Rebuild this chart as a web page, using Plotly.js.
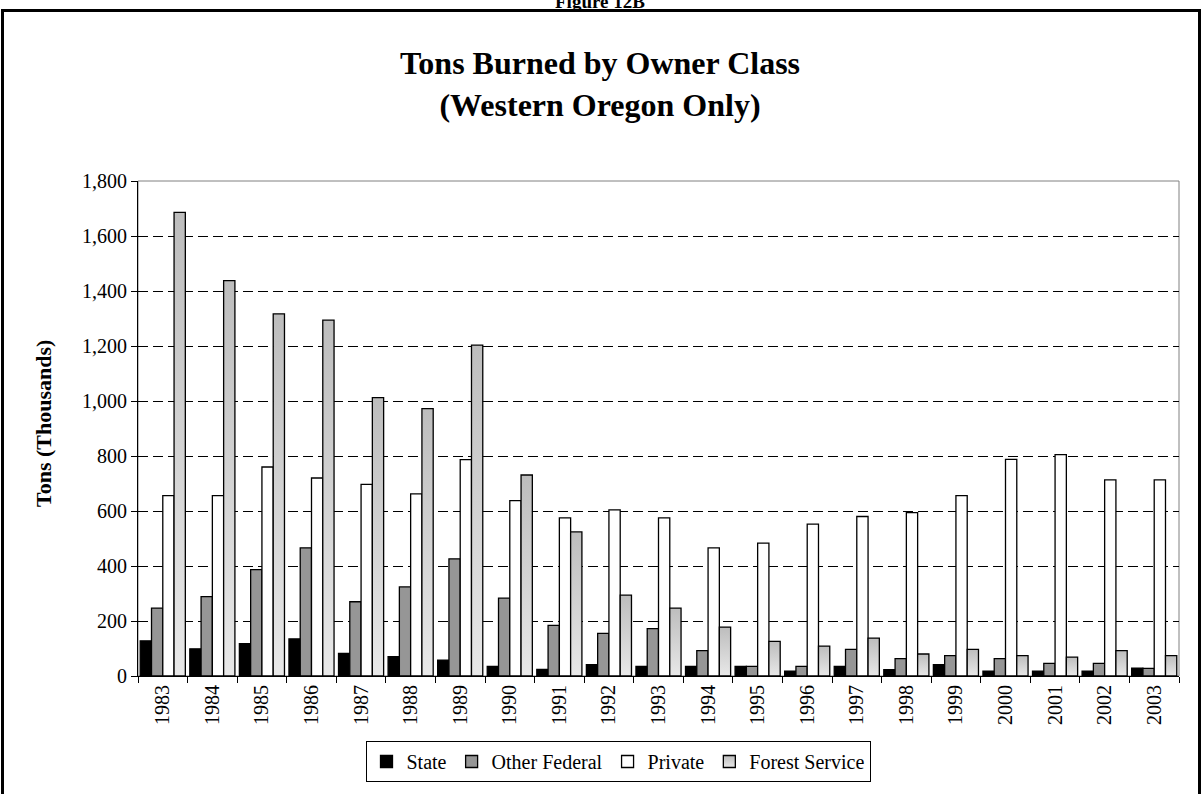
<!DOCTYPE html>
<html>
<head>
<meta charset="utf-8">
<script src="https://cdn.plot.ly/plotly-3.0.1.min.js"></script>
<style>
  html, body { margin: 0; padding: 0; background: #fff; overflow: hidden; }
  #chart { position: absolute; left: 0; top: 0; width: 1204px; height: 794px; }
  #frame { position: absolute; left: 1px; top: 9px; width: 1194px; height: 820px;
           border: 3px solid #000; pointer-events: none; }
</style>
</head>
<body>
<div id="chart"></div>
<div id="frame"></div>
<script>
const years = ['1983','1984','1985','1986','1987','1988','1989','1990','1991','1992','1993',
               '1994','1995','1996','1997','1998','1999','2000','2001','2002','2003'];
const stateVals   = [128, 99, 118, 135, 82, 70, 58, 35, 24, 41, 35, 35, 35, 18, 35, 23, 41, 18, 18, 18, 29];
const otherFedVals= [247, 289, 387, 466, 270, 324, 426, 283, 184, 155, 172, 92, 35, 35, 97, 63, 74, 63, 46, 46, 28];
const privateVals = [656, 656, 760, 720, 697, 662, 787, 638, 575, 604, 575, 466, 483, 552, 580, 594, 656, 788, 805, 713, 713];
const forestVals  = [1686, 1438, 1317, 1294, 1012, 972, 1203, 731, 524, 294, 247, 178, 126, 109, 138, 80, 97, 74, 69, 92, 74];
const seriesNames = ['State', 'Other Federal', 'Private', 'Forest Service'];
const yTickVals = [0, 200, 400, 600, 800, 1000, 1200, 1400, 1600, 1800];
const yTickText = ['0', '200', '400', '600', '800', '1,000', '1,200', '1,400', '1,600', '1,800'];

const FONT = '"Liberation Serif", "Times New Roman", serif';
const fills = ['#000000', '#969696', '#ffffff', '#d4d4d4'];
const seriesData = [stateVals, otherFedVals, privateVals, forestVals];

const traces = seriesData.map((vals, i) => ({
  type: 'bar',
  name: seriesNames[i],
  x: years,
  y: vals,
  marker: { color: fills[i], line: { color: '#000', width: 1.3 } },
  hoverinfo: 'x+y+name'
}));

const L = 138, R = 25, T = 181, B = 118;
const plotW = 1204 - L - R, plotH = 794 - T - B;

const layout = {
  width: 1204, height: 794,
  margin: { l: L, r: R, t: T, b: B, pad: 0 },
  paper_bgcolor: '#fff', plot_bgcolor: '#fff',
  font: { family: FONT, color: '#000', size: 20 },
  barmode: 'group', bargap: 0.09, bargroupgap: 0,
  title: {
    text: '<b>Tons Burned by Owner Class<br>(Western Oregon Only)</b>',
    font: { family: FONT, size: 32, color: '#000' },
    x: 600 / 1204, xref: 'container', xanchor: 'center',
    y: 1 - 74 / 794, yref: 'container', yanchor: 'middle'
  },
  xaxis: {
    type: 'category',
    tickangle: -90,
    ticks: 'outside', ticklen: 6, tickwidth: 1, tickcolor: '#000',
    tickson: 'boundaries',
    showline: true, linecolor: '#000', linewidth: 1,
    showgrid: false,
    tickfont: { family: FONT, size: 20, color: '#000' }
  },
  yaxis: {
    range: [0, 1800],
    tickvals: yTickVals, ticktext: yTickText,
    ticks: 'outside', ticklen: 6, tickwidth: 1, tickcolor: '#000',
    showline: true, linecolor: '#000', linewidth: 1,
    showgrid: true, gridcolor: '#000', gridwidth: 1, griddash: '10px,5px',
    zeroline: false,
    tickfont: { family: FONT, size: 20, color: '#000' }
  },
  showlegend: true,
  legend: {
    orientation: 'h',
    x: (618 - L) / plotW, xanchor: 'center',
    y: (676 - 741) / plotH, yanchor: 'top',
    bordercolor: '#000', borderwidth: 1, bgcolor: '#fff',
    font: { family: FONT, size: 20, color: '#000' },
    traceorder: 'normal', itemwidth: 30
  },
  shapes: [
    { type: 'rect', xref: 'paper', yref: 'paper', x0: 0, x1: 1, y0: 0, y1: 1,
      line: { color: '#808080', width: 1 }, fillcolor: 'rgba(0,0,0,0)', layer: 'below' }
  ],
  annotations: [
    { text: '<b>Tons (Thousands)</b>', xref: 'paper', yref: 'paper',
      x: (43 - L) / plotW, y: (676 - 424) / plotH, xanchor: 'center', yanchor: 'middle',
      textangle: -90, showarrow: false, font: { family: FONT, size: 22, color: '#000' } },
    { text: '<b>Figure 12B</b>', xref: 'paper', yref: 'paper',
      x: (600 - L) / plotW, y: (676 - 1) / plotH, xanchor: 'center', yanchor: 'middle',
      showarrow: false, font: { family: FONT, size: 19, color: '#000' } }
  ]
};

function applyGradient(gd) {
  const svg = gd.querySelector('svg.main-svg');
  if (!svg) return;
  let defs = svg.querySelector('defs');
  if (!defs) { defs = document.createElementNS('http://www.w3.org/2000/svg', 'defs'); svg.insertBefore(defs, svg.firstChild); }
  if (!svg.querySelector('#fsGrad')) {
    const g = document.createElementNS('http://www.w3.org/2000/svg', 'linearGradient');
    g.setAttribute('id', 'fsGrad'); g.setAttribute('x1', '0'); g.setAttribute('y1', '0');
    g.setAttribute('x2', '0'); g.setAttribute('y2', '1');
    [['0', '#bdbdbd'], ['1', '#e8e8e8']].forEach(([o, c]) => {
      const s = document.createElementNS('http://www.w3.org/2000/svg', 'stop');
      s.setAttribute('offset', o); s.setAttribute('stop-color', c); g.appendChild(s);
    });
    defs.appendChild(g);
  }
  const traceGroups = gd.querySelectorAll('.barlayer .trace');
  if (traceGroups[3]) traceGroups[3].querySelectorAll('path').forEach(p => { p.style.fill = 'url(#fsGrad)'; });
  const legendTraces = gd.querySelectorAll('.legend .traces');
  if (legendTraces[3]) legendTraces[3].querySelectorAll('.legendpoints path').forEach(p => { p.style.fill = 'url(#fsGrad)'; });
}

Plotly.newPlot('chart', traces, layout, { displayModeBar: false, staticPlot: true }).then(gd => {
  applyGradient(gd);
  gd.on('plotly_afterplot', () => applyGradient(gd));
});
</script>
</body>
</html>
